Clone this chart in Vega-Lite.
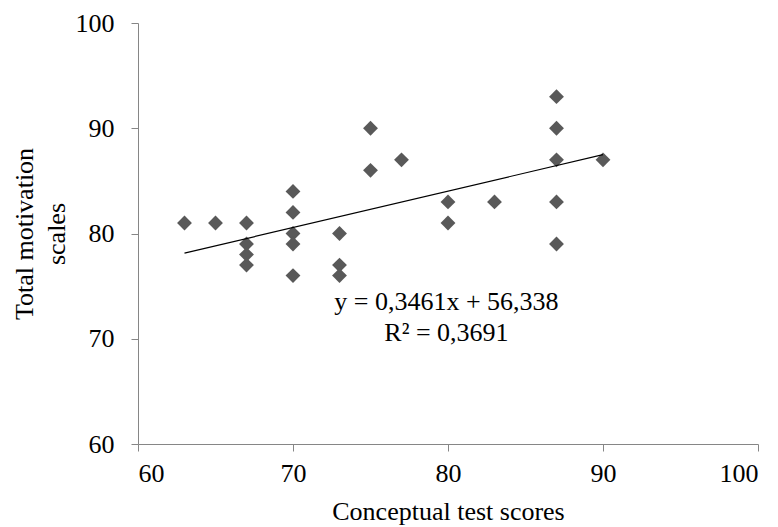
{
  "$schema": "https://vega.github.io/schema/vega-lite/v6.json",
  "autosize": "none",
  "width": 620,
  "height": 421,
  "padding": {"left": 138, "top": 23, "right": 20, "bottom": 83},
  "background": "white",
  "config": {
    "view": {"stroke": null},
    "font": "Liberation Serif",
    "axis": {
      "grid": false,
      "domainColor": "#868686",
      "tickColor": "#868686",
      "tickSize": 7,
      "labelFont": "Liberation Serif",
      "labelFontSize": 26,
      "labelColor": "#000000",
      "titleFont": "Liberation Serif",
      "titleFontSize": 26,
      "titleFontWeight": "normal",
      "titleColor": "#000000"
    }
  },
  "datasets": {
    "points": [
      {"score": 63, "motivation": 81},
      {"score": 65, "motivation": 81},
      {"score": 67, "motivation": 81},
      {"score": 67, "motivation": 79},
      {"score": 67, "motivation": 78},
      {"score": 67, "motivation": 77},
      {"score": 70, "motivation": 84},
      {"score": 70, "motivation": 82},
      {"score": 70, "motivation": 80},
      {"score": 70, "motivation": 79},
      {"score": 70, "motivation": 76},
      {"score": 73, "motivation": 80},
      {"score": 73, "motivation": 77},
      {"score": 73, "motivation": 76},
      {"score": 75, "motivation": 90},
      {"score": 75, "motivation": 86},
      {"score": 77, "motivation": 87},
      {"score": 80, "motivation": 83},
      {"score": 80, "motivation": 81},
      {"score": 83, "motivation": 83},
      {"score": 87, "motivation": 93},
      {"score": 87, "motivation": 90},
      {"score": 87, "motivation": 87},
      {"score": 87, "motivation": 83},
      {"score": 87, "motivation": 79},
      {"score": 90, "motivation": 87}
    ],
    "trend": [
      {"score": 63, "motivation": 78.14},
      {"score": 90, "motivation": 87.49}
    ],
    "labels": [
      {"score": 79.9, "motivation": 73.5, "text": "y = 0,3461x + 56,338"},
      {"score": 79.9, "motivation": 70.55, "text": "R² = 0,3691"}
    ]
  },
  "encoding": {
    "x": {
      "field": "score",
      "type": "quantitative",
      "scale": {"domain": [60, 100], "nice": false, "zero": false},
      "axis": {"values": [60, 70, 80, 90, 100], "title": "Conceptual test scores", "labelPadding": 9, "titlePadding": 12}
    },
    "y": {
      "field": "motivation",
      "type": "quantitative",
      "scale": {"domain": [60, 100], "nice": false, "zero": false},
      "axis": {"values": [60, 70, 80, 90, 100], "title": ["Total motivation", "scales"], "labelPadding": 17, "titlePadding": 6, "titleLineHeight": 32}
    }
  },
  "layer": [
    {
      "data": {"name": "points"},
      "mark": {"type": "point", "shape": "diamond", "filled": true, "size": 220, "color": "#595959", "opacity": 1}
    },
    {
      "data": {"name": "trend"},
      "mark": {"type": "line", "color": "#000000", "strokeWidth": 1.2}
    },
    {
      "data": {"name": "labels"},
      "mark": {"type": "text", "fontSize": 26, "font": "Liberation Serif", "color": "#000000", "align": "center", "baseline": "middle"},
      "encoding": {"text": {"field": "text"}}
    }
  ]
}
